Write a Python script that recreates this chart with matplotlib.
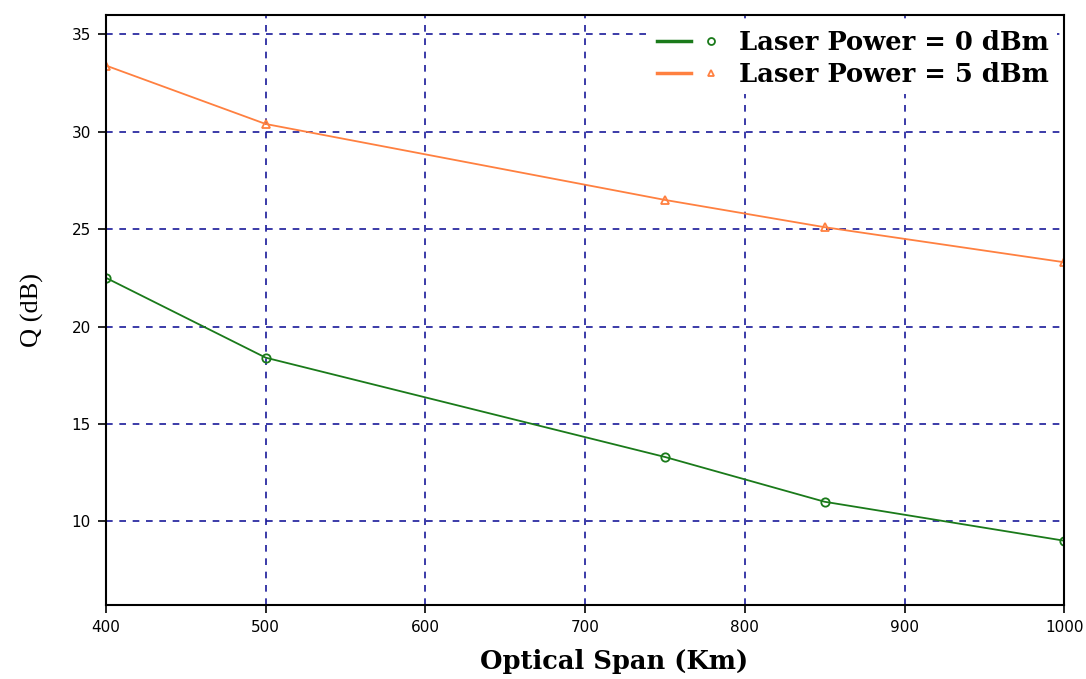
import matplotlib
matplotlib.use('Agg')
import matplotlib.pyplot as plt
from matplotlib.lines import Line2D
from matplotlib.legend_handler import HandlerTuple

# data
span_km = [400, 500, 750, 850, 1000]
q_0dbm = [22.5, 18.4, 13.3, 11.0, 9.0]
q_5dbm = [33.4, 30.4, 26.5, 25.1, 23.3]
x_ticks = [400, 500, 600, 700, 800, 900, 1000]
y_ticks = [10, 15, 20, 25, 30, 35]
labels = ['Laser Power = 0 dBm', 'Laser Power = 5 dBm']
green = '#1a7a1a'
orange = '#ff8040'

fig = plt.figure(figsize=(10.86, 6.79), dpi=100)
ax = fig.add_axes([0.0976, 0.109, 0.8824, 0.869])

ax.plot(span_km, q_0dbm, color=green, lw=1.3, marker='o', ms=6,
        mfc='none', mew=1.3)
ax.plot(span_km, q_5dbm, color=orange, lw=1.3, marker='^', ms=6,
        mfc='none', mew=1.3)

ax.set_xlim(400, 1000)
ax.set_ylim(5.7, 36)
ax.set_xticks(x_ticks)
ax.set_yticks(y_ticks)
ax.grid(True, color='#1a1a9a', linestyle=(0, (4, 4)), lw=1.2)
ax.tick_params(direction='out', length=6, width=1.2, labelsize=11, pad=5)
for s in ax.spines.values():
    s.set_linewidth(1.5)

ax.set_xlabel('Optical Span (Km)', family='DejaVu Serif', fontweight='bold',
              fontsize=18.5, labelpad=10, x=0.53)
ax.set_ylabel('Q (dB)', family='Liberation Serif', fontsize=19, labelpad=20)

# legend: line segment then a separate small marker
handles = []
for c, m in [(green, 'o'), (orange, '^')]:
    ln = Line2D([], [], color=c, lw=2.5)
    mk = Line2D([], [], color=c, marker=m, ls='none', ms=5, mfc='none', mew=1.3)
    handles.append((ln, mk))
leg = ax.legend(handles, labels, loc='upper right', frameon=True,
                facecolor='white', edgecolor='none', framealpha=1,
                fancybox=False, handlelength=2.8, borderaxespad=0.3,
                borderpad=0.3, labelspacing=0.25, handletextpad=0.4,
                handler_map={tuple: HandlerTuple(ndivide=None, pad=0.1)},
                prop={'family': 'DejaVu Serif', 'weight': 'bold', 'size': 18.5})

fig.savefig('out.png', dpi=100)
